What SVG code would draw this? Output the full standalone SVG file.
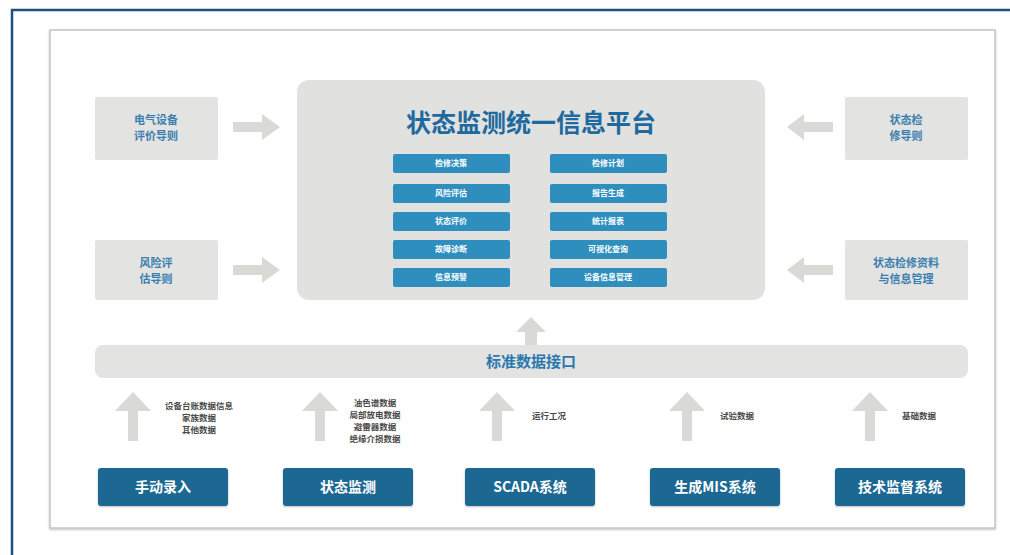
<svg xmlns="http://www.w3.org/2000/svg" width="1010" height="555" viewBox="0 0 1010 555">
<defs>
<style>
.side{fill:#e3e3e1}
.sidet{font-family:"Noto Sans CJK SC",sans-serif;font-size:11px;font-weight:bold;fill:#3a7fb0;text-anchor:middle}
.btn{fill:#2e8fbf}
.btnt{font-family:"Noto Sans CJK SC",sans-serif;font-size:8px;font-weight:bold;fill:#ffffff;text-anchor:middle}
.src{fill:#1b6893}
.srct{font-family:"Noto Sans CJK SC",sans-serif;font-size:14px;font-weight:bold;fill:#ffffff;text-anchor:middle}
.arr{fill:#d9d9d6}
.small{font-family:"Noto Sans CJK SC",sans-serif;font-size:8.5px;font-weight:bold;fill:#4a4a4a}
</style>
<filter id="sh" x="-5%" y="-5%" width="110%" height="110%"><feDropShadow dx="0" dy="1" stdDeviation="1" flood-color="#000" flood-opacity="0.25"/></filter>
</defs>
<rect width="1010" height="555" fill="#ffffff"/>
<path d="M12 555 V10 H1010" fill="none" stroke="#1c4f86" stroke-width="2.5"/>
<rect x="50" y="30" width="945" height="498" fill="#ffffff" stroke="#c4c4c4" stroke-width="1.5" filter="url(#sh)"/>

<g id="guide1"><rect class="side" x="95" y="97" width="123" height="63" rx="2"/><text class="sidet" x="156" y="124">电气设备</text><text class="sidet" x="156" y="140">评价导则</text></g>
<g id="guide2"><rect class="side" x="95" y="240" width="123" height="60" rx="2"/><text class="sidet" x="156" y="267">风险评</text><text class="sidet" x="156" y="283">估导则</text></g>
<g id="guide3"><rect class="side" x="845" y="97" width="123" height="63" rx="2"/><text class="sidet" x="906" y="124">状态检</text><text class="sidet" x="906" y="140">修导则</text></g>
<g id="guide4"><rect class="side" x="845" y="240" width="123" height="60" rx="2"/><text class="sidet" x="906" y="267">状态检修资料</text><text class="sidet" x="906" y="283">与信息管理</text></g>

<g id="platform">
<rect x="297" y="80" width="468" height="220" rx="12" fill="#e1e1df"/>
<text x="531" y="132" font-family="Noto Sans CJK SC,sans-serif" font-size="25" font-weight="bold" fill="#1e6a9e" text-anchor="middle">状态监测统一信息平台</text>
<rect class="btn" x="393" y="154" width="117" height="19" rx="2"/><text class="btnt" x="451" y="166">检修决策</text>
<rect class="btn" x="393" y="184" width="117" height="19" rx="2"/><text class="btnt" x="451" y="196">风险评估</text>
<rect class="btn" x="393" y="212" width="117" height="19" rx="2"/><text class="btnt" x="451" y="224">状态评价</text>
<rect class="btn" x="393" y="240" width="117" height="19" rx="2"/><text class="btnt" x="451" y="252">故障诊断</text>
<rect class="btn" x="393" y="268" width="117" height="19" rx="2"/><text class="btnt" x="451" y="280">信息预警</text>
<rect class="btn" x="550" y="154" width="117" height="19" rx="2"/><text class="btnt" x="608" y="166">检修计划</text>
<rect class="btn" x="550" y="184" width="117" height="19" rx="2"/><text class="btnt" x="608" y="196">报告生成</text>
<rect class="btn" x="550" y="212" width="117" height="19" rx="2"/><text class="btnt" x="608" y="224">统计报表</text>
<rect class="btn" x="550" y="240" width="117" height="19" rx="2"/><text class="btnt" x="608" y="252">可视化查询</text>
<rect class="btn" x="550" y="268" width="117" height="19" rx="2"/><text class="btnt" x="608" y="280">设备信息管理</text>
</g>

<g id="interface">
<rect x="95" y="345" width="873" height="33" rx="8" fill="#e3e3e1"/>
<text x="531" y="367" font-family="Noto Sans CJK SC,sans-serif" font-size="15" font-weight="bold" fill="#2a79ad" text-anchor="middle">标准数据接口</text>
</g>

<g id="s1"><rect class="src" x="98" y="468" width="130" height="38" rx="3" filter="url(#sh)"/><text class="srct" x="163" y="492">手动录入</text></g>
<g id="s2"><rect class="src" x="283" y="468" width="130" height="38" rx="3" filter="url(#sh)"/><text class="srct" x="348" y="492">状态监测</text></g>
<g id="s3"><rect class="src" x="465" y="468" width="130" height="38" rx="3" filter="url(#sh)"/><text class="srct" x="530" y="492">SCADA系统</text></g>
<g id="s4"><rect class="src" x="650" y="468" width="130" height="38" rx="3" filter="url(#sh)"/><text class="srct" x="715" y="492">生成MIS系统</text></g>
<g id="s5"><rect class="src" x="835" y="468" width="130" height="38" rx="3" filter="url(#sh)"/><text class="srct" x="900" y="492">技术监督系统</text></g>

<g id="connectors">
<polygon class="arr" points="233,122 262,122 262,114 280,127 262,140 262,132 233,132"/>
<polygon class="arr" points="233,265 262,265 262,257 280,270 262,283 262,275 233,275"/>
<polygon class="arr" points="833,122 804,122 804,114 787,127 804,140 804,132 833,132"/>
<polygon class="arr" points="833,265 804,265 804,257 787,270 804,283 804,275 833,275"/>
<polygon class="arr" points="525,345 525,332 516,332 531,317 546,332 537,332 537,345"/>
<polygon class="arr" points="128,441 128,411 115,411 133,392 151,411 138,411 138,441"/>
<polygon class="arr" points="315,441 315,411 302,411 320,392 338,411 325,411 325,441"/>
<polygon class="arr" points="492,441 492,411 479,411 497,392 515,411 502,411 502,441"/>
<polygon class="arr" points="682,441 682,411 669,411 687,392 705,411 692,411 692,441"/>
<polygon class="arr" points="865,441 865,411 852,411 870,392 888,411 875,411 875,441"/>
</g>

<g id="labels">
<text class="small" x="199" y="409" text-anchor="middle">设备台账数据信息</text>
<text class="small" x="199" y="421" text-anchor="middle">家族数据</text>
<text class="small" x="199" y="433" text-anchor="middle">其他数据</text>
<text class="small" x="375" y="406" text-anchor="middle">油色谱数据</text>
<text class="small" x="375" y="418" text-anchor="middle">局部放电数据</text>
<text class="small" x="375" y="430" text-anchor="middle">避雷器数据</text>
<text class="small" x="375" y="442" text-anchor="middle">绝缘介损数据</text>
<text class="small" x="532" y="419">运行工况</text>
<text class="small" x="720" y="419">试验数据</text>
<text class="small" x="902" y="419">基础数据</text>
</g>
</svg>
